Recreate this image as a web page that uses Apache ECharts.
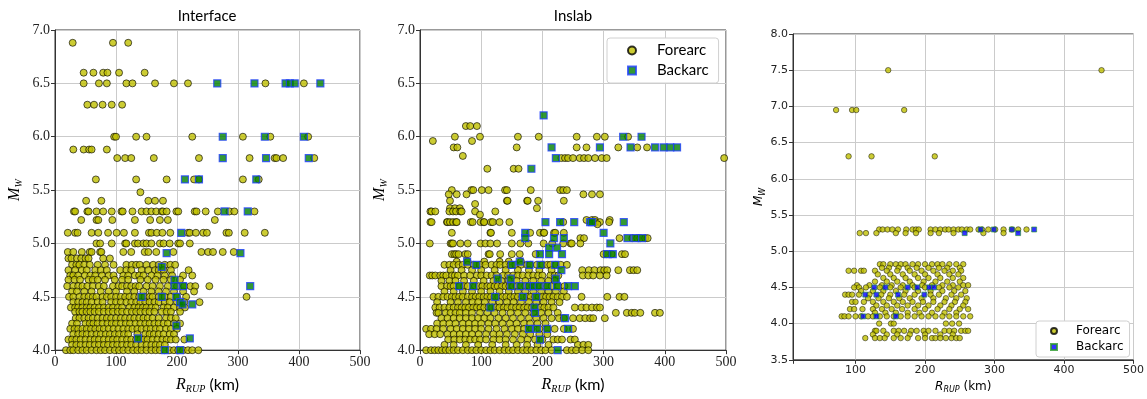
<!DOCTYPE html>
<html>
<head>
<meta charset="utf-8">
<script src="https://cdn.jsdelivr.net/npm/echarts@6/dist/echarts.min.js"></script>
<style>
html, body { margin: 0; padding: 0; background: #fff; }
#chart { width: 1147px; height: 399px; }
</style>
</head>
<body>
<div id="chart"></div>
<script>
// each row: [Mw, [Rrup values in km]]
const ifaceFore = [
  [6.88, [29, 95, 120]],
  [6.6, [47, 63, 79, 86, 105, 147]],
  [6.5, [47, 72, 85, 117, 127, 164, 195, 218, 345, 408]],
  [6.3, [53, 64, 78, 93, 110]],
  [6.0, [97, 100, 133, 150, 225, 308, 353, 415]],
  [5.88, [30, 47, 56, 60, 85]],
  [5.8, [102, 115, 125, 162, 236, 319, 360, 363, 374, 425]],
  [5.6, [67, 133, 183, 228, 236, 308, 334]],
  [5.48, [140]],
  [5.4, [51, 76, 153, 164, 177]],
  [5.3, [31, 33, 53, 55, 68, 79, 93, 109, 111, 127, 142, 150, 158, 166, 175, 177, 183, 199, 202, 229, 232, 247, 267, 286, 294, 327]],
  [5.22, [43, 68, 71, 94, 131, 156, 172, 185, 262]],
  [5.1, [21, 33, 37, 60, 71, 87, 101, 113, 131, 154, 158, 167, 176, 189, 218, 221, 231, 243, 249, 281, 285, 311, 344]],
  [5.0, [68, 74, 93, 115, 117, 131, 136, 145, 150, 158, 172, 178, 188, 202, 205, 221]],
  [4.92, [21, 30, 44, 57, 60, 74, 76, 112, 125, 147, 153, 166, 194, 240, 251, 259, 275, 293]],
  [4.86, [22, 27, 36, 43, 50, 55, 79, 90]],
  [4.8, [28, 35, 40, 48, 57, 70, 82, 96, 117, 126, 133, 139, 150, 161, 170, 180, 189, 197]],
  [4.75, [22, 33, 44, 52, 66, 75, 85, 107, 117, 125, 142, 153, 164, 170, 178, 190, 219]],
  [4.7, [25, 30, 38, 49, 58, 66, 77, 88, 96, 112, 120, 131, 138, 145, 158, 168, 180, 192, 210, 225]],
  [4.66, [22, 32, 41, 55, 62, 70, 82, 98, 110, 120, 140, 152, 165, 178, 190, 205]],
  [4.6, [20, 30, 38, 45, 53, 62, 72, 80, 95, 104, 110, 118, 125, 132, 138, 150, 160, 172, 185, 200, 212, 222, 230, 253]],
  [4.55, [28, 36, 48, 60, 75, 88, 100, 118, 130, 145, 158, 170, 182, 195, 210, 228]],
  [4.5, [23, 30, 40, 48, 55, 62, 68, 78, 85, 92, 100, 108, 115, 122, 130, 138, 147, 155, 160, 170, 180, 190, 200, 215, 314]],
  [4.45, [30, 38, 45, 52, 60, 70, 78, 92, 100, 108, 117, 125, 133, 140, 148, 155, 163, 170, 180, 188, 200, 212, 237]],
  [4.4, [26, 33, 38, 45, 52, 58, 65, 72, 80, 88, 95, 103, 110, 122, 130, 137, 144, 150, 158, 165, 178, 185, 195, 205, 213]],
  [4.36, [33, 40, 45, 52, 58, 65, 72, 80, 88, 95, 103, 110, 118, 126, 133, 140, 148, 155, 163, 175, 183, 190, 205]],
  [4.3, [34, 40, 48, 55, 62, 70, 78, 85, 92, 100, 108, 115, 123, 130, 138, 145, 152, 160, 170, 182, 190, 198]],
  [4.25, [28, 36, 50, 57, 63, 70, 78, 86, 93, 100, 108, 116, 123, 132, 140, 148, 155, 163, 170, 178, 185, 195, 205]],
  [4.2, [25, 32, 38, 45, 52, 59, 66, 73, 80, 88, 96, 104, 112, 120, 127, 135, 142, 150, 157, 165, 172, 182, 190, 200]],
  [4.15, [30, 38, 45, 52, 60, 68, 75, 83, 90, 98, 105, 113, 120, 135, 148, 155, 162, 170, 178, 188, 195]],
  [4.1, [22, 28, 35, 42, 50, 58, 65, 72, 80, 88, 95, 102, 110, 118, 125, 133, 140, 146, 152, 160, 168, 176, 183, 190, 198, 212]],
  [4.05, [28, 35, 42, 50, 57, 65, 72, 80, 87, 95, 102, 110, 118, 125, 133, 142, 150, 158, 165, 172, 180]],
  [4.0, [18, 25, 30, 38, 45, 52, 60, 68, 75, 82, 90, 98, 105, 112, 120, 128, 135, 142, 150, 158, 165, 172, 180, 188, 195, 202, 210, 218, 225, 235]]
];
const ifaceBack = [
  [6.5, [266, 327, 378, 385, 393, 435]],
  [6.0, [275, 344, 408]],
  [5.8, [275, 346, 416]],
  [5.6, [213, 236, 330]],
  [5.3, [278, 316]],
  [5.1, [207]],
  [4.91, [183, 304]],
  [4.78, [175]],
  [4.66, [196]],
  [4.6, [196, 210, 320]],
  [4.5, [142, 175, 199]],
  [4.45, [205]],
  [4.43, [209, 225]],
  [4.23, [199]],
  [4.11, [136, 221]],
  [4.0, [180, 205]]
];

const inslabFore = [
  [6.1, [75, 82, 93]],
  [6.0, [57, 98, 160, 194, 256, 289, 302, 340]],
  [5.96, [21, 85]],
  [5.9, [55, 61, 158, 256, 272, 324, 355, 371]],
  [5.82, [70]],
  [5.8, [231, 237, 242, 250, 261, 268, 275, 286, 297, 305, 497]],
  [5.7, [110, 153, 161]],
  [5.5, [52, 84, 87, 101, 112, 139, 142, 181, 229, 234, 240]],
  [5.46, [47, 60, 76, 267, 281, 294]],
  [5.4, [49, 142, 143, 175, 176, 193, 235]],
  [5.37, [90]],
  [5.33, [49, 57, 65, 191]],
  [5.3, [17, 19, 25, 48, 54, 59, 66, 68, 90, 123]],
  [5.27, [98]],
  [5.22, [272, 281, 286, 310]],
  [5.2, [17, 19, 44, 45, 49, 54, 59, 60, 83, 86, 99, 104, 105, 116, 119, 130, 146, 234, 287, 294, 309]],
  [5.18, [290]],
  [5.1, [52, 115, 116, 150, 180, 196, 202, 203, 219, 221, 235]],
  [5.05, [262, 268, 326, 347, 355, 360, 368, 372]],
  [5.0, [16, 50, 52, 54, 66, 78, 99, 107, 115, 126, 150, 164, 177, 202, 216, 234, 246, 248, 262]],
  [4.9, [52, 56, 59, 63, 74, 78, 112, 114, 131, 150, 163, 189, 300, 305, 313, 330, 335]],
  [4.83, [60, 78, 105, 130, 145, 165]],
  [4.8, [40, 48, 55, 63, 70, 78, 88, 98, 107, 117, 125, 131, 140, 148, 156, 165, 175, 180, 191, 200, 208, 213, 222, 230, 240]],
  [4.75, [50, 68, 85, 100, 122, 140, 160, 178, 195, 215, 265, 276, 285, 295, 301, 306, 324, 343, 349, 355]],
  [4.7, [16, 20, 25, 33, 38, 43, 52, 57, 62, 72, 82, 93, 100, 109, 117, 125, 136, 144, 152, 160, 168, 177, 185, 193, 200, 213, 220, 226, 266, 275, 283, 294, 305]],
  [4.65, [35, 48, 58, 72, 88, 104, 120, 133, 145, 158, 172, 185, 198, 210, 220]],
  [4.6, [35, 44, 50, 55, 65, 72, 78, 90, 96, 102, 110, 115, 122, 127, 134, 140, 146, 152, 158, 165, 172, 178, 184, 190, 196, 202, 208, 215, 226, 236]],
  [4.55, [40, 55, 70, 85, 100, 115, 130, 145, 160, 172, 185, 198, 210, 222, 235]],
  [4.5, [22, 30, 38, 45, 52, 58, 64, 70, 78, 85, 91, 97, 104, 110, 116, 122, 128, 135, 141, 148, 154, 160, 167, 175, 181, 188, 194, 200, 206, 212, 218, 225, 232, 240, 264, 306, 326, 334]],
  [4.45, [28, 50, 62, 75, 86, 95, 106, 118, 130, 142, 153, 165, 178, 190, 202, 215, 228]],
  [4.4, [25, 32, 40, 48, 55, 62, 68, 74, 80, 87, 93, 99, 105, 112, 118, 124, 130, 137, 143, 150, 157, 163, 170, 176, 183, 190, 197, 203, 210, 218, 253, 264, 272, 281, 289, 294]],
  [4.35, [27, 30, 42, 50, 58, 65, 75, 85, 98, 110, 122, 135, 148, 160, 172, 185, 198, 210, 225, 320, 338, 346, 351, 360, 384, 392]],
  [4.3, [35, 45, 55, 65, 75, 85, 95, 105, 115, 128, 140, 152, 165, 178, 190, 202, 215, 227, 235, 250, 261, 270, 278, 283, 302]],
  [4.25, [28, 38, 48, 58, 70, 80, 90, 100, 112, 123, 135, 147, 158, 170, 180, 192, 205]],
  [4.2, [10, 18, 27, 38, 50, 60, 70, 80, 90, 100, 112, 125, 138, 150, 160, 170, 182, 195, 208, 220, 235, 250]],
  [4.15, [15, 24, 33, 45, 55, 65, 75, 85, 96, 108, 120, 130, 142, 155, 168, 180, 195, 208]],
  [4.1, [46, 56, 65, 74, 82, 90, 98, 108, 120, 130, 140, 152, 165, 176, 188, 200, 218, 225, 232, 246, 253]],
  [4.05, [40, 55, 75, 95, 118, 140, 158, 175, 192, 210, 258, 267, 275]],
  [4.0, [10, 18, 24, 30, 36, 42, 48, 55, 62, 70, 78, 85, 92, 100, 108, 115, 122, 130, 138, 145, 152, 160, 168, 175, 182, 190, 198, 205, 215, 240, 248, 255, 265, 275]]
];
const inslabBack = [
  [6.2, [202]],
  [6.0, [332, 362]],
  [5.9, [215, 294, 344, 384, 398, 409, 420]],
  [5.8, [222]],
  [5.7, [182]],
  [5.2, [205, 229, 252, 278, 281, 333]],
  [5.1, [172, 300]],
  [5.05, [172, 219, 235, 339, 352, 363]],
  [5.0, [311]],
  [4.96, [211, 224]],
  [4.9, [196, 211, 232, 306, 315]],
  [4.83, [77, 163]],
  [4.8, [92, 150, 179, 197, 221]],
  [4.75, [231]],
  [4.67, [127, 148, 222]],
  [4.6, [64, 87, 149, 164, 178, 186, 194, 208, 224, 242, 253]],
  [4.5, [123, 168, 190]],
  [4.4, [115, 187]],
  [4.35, [188]],
  [4.3, [237]],
  [4.2, [178, 191, 208, 242]],
  [4.1, [196]],
  [4.0, [225]]
];

const allFore = [
  [7.5, [147, 454]],
  [6.95, [72, 95, 101, 170]],
  [6.31, [90, 123, 214]],
  [5.3, [134, 139, 146, 153, 161, 173, 182, 187, 191, 208, 215, 222, 229, 234, 241, 248, 253, 260, 265, 277, 282, 291, 301, 313, 325, 334, 346]],
  [5.25, [106, 115, 130, 158, 172, 187, 208, 220, 241, 284, 313]],
  [4.82, [135, 140, 150, 158, 165, 172, 182, 190, 200, 210, 218, 225, 235, 245, 255]],
  [4.77, [138, 148, 162, 175, 188, 205, 220, 232, 250]],
  [4.73, [90, 98, 108, 112, 128, 145, 160, 178, 195, 212, 228, 240, 252]],
  [4.68, [132, 150, 168, 185, 200, 218, 235, 248]],
  [4.63, [140, 155, 172, 190, 205, 222, 240, 255]],
  [4.58, [128, 145, 160, 178, 198, 215, 232, 250]],
  [4.53, [102, 120, 138, 152, 168, 182, 196, 210, 225, 240, 255, 262]],
  [4.5, [98, 105, 115, 135, 150, 165, 185, 200, 220, 235, 248]],
  [4.45, [108, 125, 140, 158, 172, 190, 208, 225, 242, 258]],
  [4.4, [85, 90, 95, 105, 120, 137, 150, 170, 185, 208, 220, 238, 252]],
  [4.35, [118, 133, 148, 163, 178, 195, 212, 230, 245, 260]],
  [4.3, [95, 100, 112, 125, 140, 155, 168, 182, 197, 212, 228, 243, 258]],
  [4.25, [130, 145, 160, 175, 190, 205, 222, 238, 255]],
  [4.2, [92, 98, 110, 125, 138, 152, 167, 185, 200, 218, 235, 250, 262]],
  [4.15, [128, 143, 158, 175, 192, 210, 228, 245]],
  [4.1, [80, 84, 90, 100, 108, 118, 125, 135, 145, 155, 165, 175, 185, 195, 205, 215, 225, 235, 245, 255, 265]],
  [4.0, [134, 151, 155, 230, 239, 249]],
  [3.9, [128, 130, 140, 155, 162, 170, 180, 188, 198, 205, 215, 228, 235, 242, 252, 258, 262]],
  [3.85, [125, 145, 160, 178, 200, 222, 240]],
  [3.8, [114, 128, 135, 142, 155, 165, 175, 190, 200, 210, 215, 222, 230, 238, 245, 250]]
];
const allBack = [
  [5.3, [280, 299, 325, 357]],
  [5.25, [257, 334]],
  [4.5, [127, 143, 175, 189, 206, 213]],
  [4.4, [114, 130, 161, 199]],
  [4.1, [111, 130, 158]]
];

const legendNames = ['Forearc', 'Backarc'];

function pts(rows) {
  const out = [];
  rows.forEach(function (row) {
    row[1].forEach(function (r) { out.push([r, row[0]]); });
  });
  return out;
}

const SERIF = 'Liberation Serif';
const SANS = 'Lato';
const GRIDC = '#cbcbcb';
const AXC = '#333';

function subName(big, small, tail, font, tailFont, size, subSize) {
  return {
    text: '{i|' + big + '}{s|' + small + '}' + (tail ? '{t|' + tail + '}' : ''),
    rich: {
      i: { fontFamily: font, fontStyle: 'italic', fontSize: size, color: '#000' },
      s: { fontFamily: font, fontStyle: 'italic', fontSize: subSize, color: '#000', padding: [size * 0.55, 0, 0, 0] },
      t: { fontFamily: tailFont, fontSize: size, color: '#000' }
    }
  };
}

function xAx(idx, min, serif) {
  const n = subName('R', 'RUP', ' (km)', serif ? SERIF : 'DejaVu Sans', serif ? SANS : 'DejaVu Sans', serif ? 16 : 12, serif ? 10 : 8);
  return {
    type: 'value', gridIndex: idx, min: min, max: 500,
    interval: serif ? 100 : undefined, splitNumber: 5,
    name: n.text, nameLocation: 'middle', nameGap: serif ? 25 : 19,
    nameTextStyle: { rich: n.rich },
    axisLine: { show: true, lineStyle: { color: AXC } },
    axisTick: { show: true, length: 4, lineStyle: { color: AXC } },
    axisLabel: {
      fontFamily: serif ? SERIF : 'DejaVu Sans', fontSize: serif ? 14 : 11, color: '#222', margin: 5,
      formatter: function (v) { return v === 10 ? '' : String(v); }
    },
    splitLine: { show: true, showMinLine: false, lineStyle: { color: GRIDC, width: 1 } }
  };
}

function yAx(idx, min, max, serif) {
  const n = subName('M', 'W', '', serif ? SERIF : 'DejaVu Sans', SANS, serif ? 16 : 12, serif ? 10 : 8);
  return {
    type: 'value', gridIndex: idx, min: min, max: max, interval: 0.5,
    name: n.text, nameLocation: 'middle', nameGap: serif ? 31 : 26, nameRotate: 90,
    nameTextStyle: { rich: n.rich },
    axisLine: { show: true, lineStyle: { color: AXC } },
    axisTick: { show: true, length: 4, lineStyle: { color: AXC } },
    axisLabel: {
      fontFamily: serif ? SERIF : 'DejaVu Sans', fontSize: serif ? 14 : 11, color: '#222', margin: 5,
      formatter: function (v) { return v.toFixed(1); }
    },
    splitLine: { show: true, lineStyle: { color: GRIDC, width: 1 } }
  };
}

const foreStyle = { color: '#bfbf00', borderColor: '#000', borderWidth: 0.8 };
const backStyle = { color: '#007f00', borderColor: '#1f3fff', borderWidth: 1.2 };
const backStyle3 = { color: '#0000ff', borderColor: '#2a9a2a', borderWidth: 0.8 };

const chart = echarts.init(document.getElementById('chart'), null, { renderer: 'canvas' });
chart.setOption({
  animation: false,
  backgroundColor: '#fff',
  grid: [
    { left: 55, top: 30, width: 305, height: 326, show: true, borderColor: AXC, borderWidth: 1, backgroundColor: 'transparent' },
    { left: 420, top: 30, width: 306, height: 326, show: true, borderColor: AXC, borderWidth: 1, backgroundColor: 'transparent' },
    { left: 793, top: 34, width: 343, height: 332, show: true, borderColor: AXC, borderWidth: 1, backgroundColor: 'transparent' }
  ],
  xAxis: [xAx(0, 0, true), xAx(1, 0, true), xAx(2, 10, false)],
  yAxis: [yAx(0, 4, 7, true), yAx(1, 4, 7, true), yAx(2, 3.5, 8, false)],
  graphic: [
    { type: 'text', x: 207, y: 9, style: { text: 'Interface', fontFamily: SANS, fontSize: 15, fill: '#000', textAlign: 'center' } },
    { type: 'text', x: 573, y: 9, style: { text: 'Inslab', fontFamily: SANS, fontSize: 15, fill: '#000', textAlign: 'center' } }
  ],
  legend: [
    {
      data: legendNames, left: 607, top: 38, orient: 'vertical',
      backgroundColor: '#fff', borderColor: '#d0d0d0', borderWidth: 1, borderRadius: 3,
      padding: [5, 10, 5, 20], itemGap: 5, itemWidth: 8, itemHeight: 8,
      textStyle: { fontFamily: SANS, fontSize: 15, color: '#000', padding: [0, 0, 0, 16] }
    },
    {
      data: legendNames.map(function (s) { return s + ' 3'; }),
      formatter: function (n) { return n.replace(' 3', ''); },
      left: 1036, top: 321, orient: 'vertical',
      backgroundColor: '#fff', borderColor: '#d0d0d0', borderWidth: 1, borderRadius: 3,
      padding: [4, 6, 4, 14], itemGap: 4, itemWidth: 6, itemHeight: 6,
      textStyle: { fontFamily: 'DejaVu Sans', fontSize: 12, color: '#000', padding: [0, 0, 0, 14] }
    }
  ],
  series: [
    { name: 'Forearc', type: 'scatter', xAxisIndex: 0, yAxisIndex: 0, symbol: 'circle', symbolSize: 7, itemStyle: foreStyle, data: pts(ifaceFore) },
    { name: 'Backarc', type: 'scatter', xAxisIndex: 0, yAxisIndex: 0, symbol: 'rect', symbolSize: 7, itemStyle: backStyle, data: pts(ifaceBack) },
    { name: 'Forearc', type: 'scatter', xAxisIndex: 1, yAxisIndex: 1, symbol: 'circle', symbolSize: 7, itemStyle: foreStyle, data: pts(inslabFore) },
    { name: 'Backarc', type: 'scatter', xAxisIndex: 1, yAxisIndex: 1, symbol: 'rect', symbolSize: 7, itemStyle: backStyle, data: pts(inslabBack) },
    { name: 'Forearc 3', type: 'scatter', xAxisIndex: 2, yAxisIndex: 2, symbol: 'circle', symbolSize: 5.5, itemStyle: { color: '#bfbf00', borderColor: '#000', borderWidth: 0.6 }, data: pts(allFore) },
    { name: 'Backarc 3', type: 'scatter', xAxisIndex: 2, yAxisIndex: 2, symbol: 'rect', symbolSize: 5, itemStyle: backStyle3, data: pts(allBack) }
  ]
});
</script>
</body>
</html>
